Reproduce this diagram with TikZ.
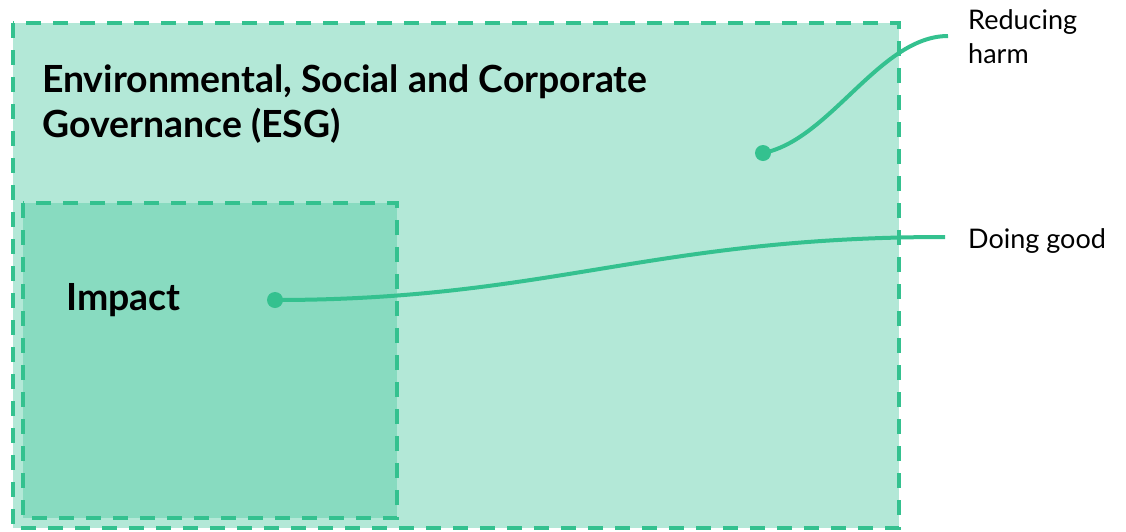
\documentclass[tikz,border=0pt]{standalone}
\usepackage{fontspec}
\setmainfont{Lato}
\definecolor{esgline}{RGB}{52,193,143}
\definecolor{esgouter}{RGB}{179,232,215}
\definecolor{esginner}{RGB}{136,219,192}
\tikzset{
  boxline/.style={draw=esgline, line width=4pt, dash pattern=on 15pt off 12pt},
  outerbox/.style={boxline, fill=esgouter},
  innerbox/.style={boxline, fill=esginner},
  leader/.style={draw=esgline, line width=4pt},
  dotmark/.style={fill=esgline},
  bigtitle/.style={font=\fontsize{37.4}{45}\selectfont\bfseries, anchor=base west, inner sep=0pt, align=left},
  smalllabel/.style={font=\fontsize{27}{34}\selectfont, anchor=base west, inner sep=0pt, align=left},
}
\begin{document}
\begin{tikzpicture}[x=1pt,y=-1pt]
\useasboundingbox (0,0) rectangle (1126,531);
\path[outerbox] (13,23) rectangle (899,528);
\path[innerbox] (23,203) rectangle (397,518);
\node[bigtitle] (esg) at (42,137) {Environmental, Social and Corporate\\Governance (ESG)};
\node[bigtitle] (impact) at (66,310) {Impact};
\node[smalllabel] (harm) at (968,63) {Reducing\\harm};
\node[smalllabel] (good) at (968,248) {Doing good};
\coordinate (harmdot) at (763,153);
\coordinate (gooddot) at (275,300);
\coordinate (harmend) at (948,36);
\coordinate (goodend) at (945,237);
\draw[leader] (harmdot) .. controls (830,140) and (880,36) .. (harmend);
\draw[leader] (gooddot) .. controls (550,300) and (650,237) .. (goodend);
\fill[dotmark] (harmdot) circle (8);
\fill[dotmark] (gooddot) circle (8);
\end{tikzpicture}
\end{document}
